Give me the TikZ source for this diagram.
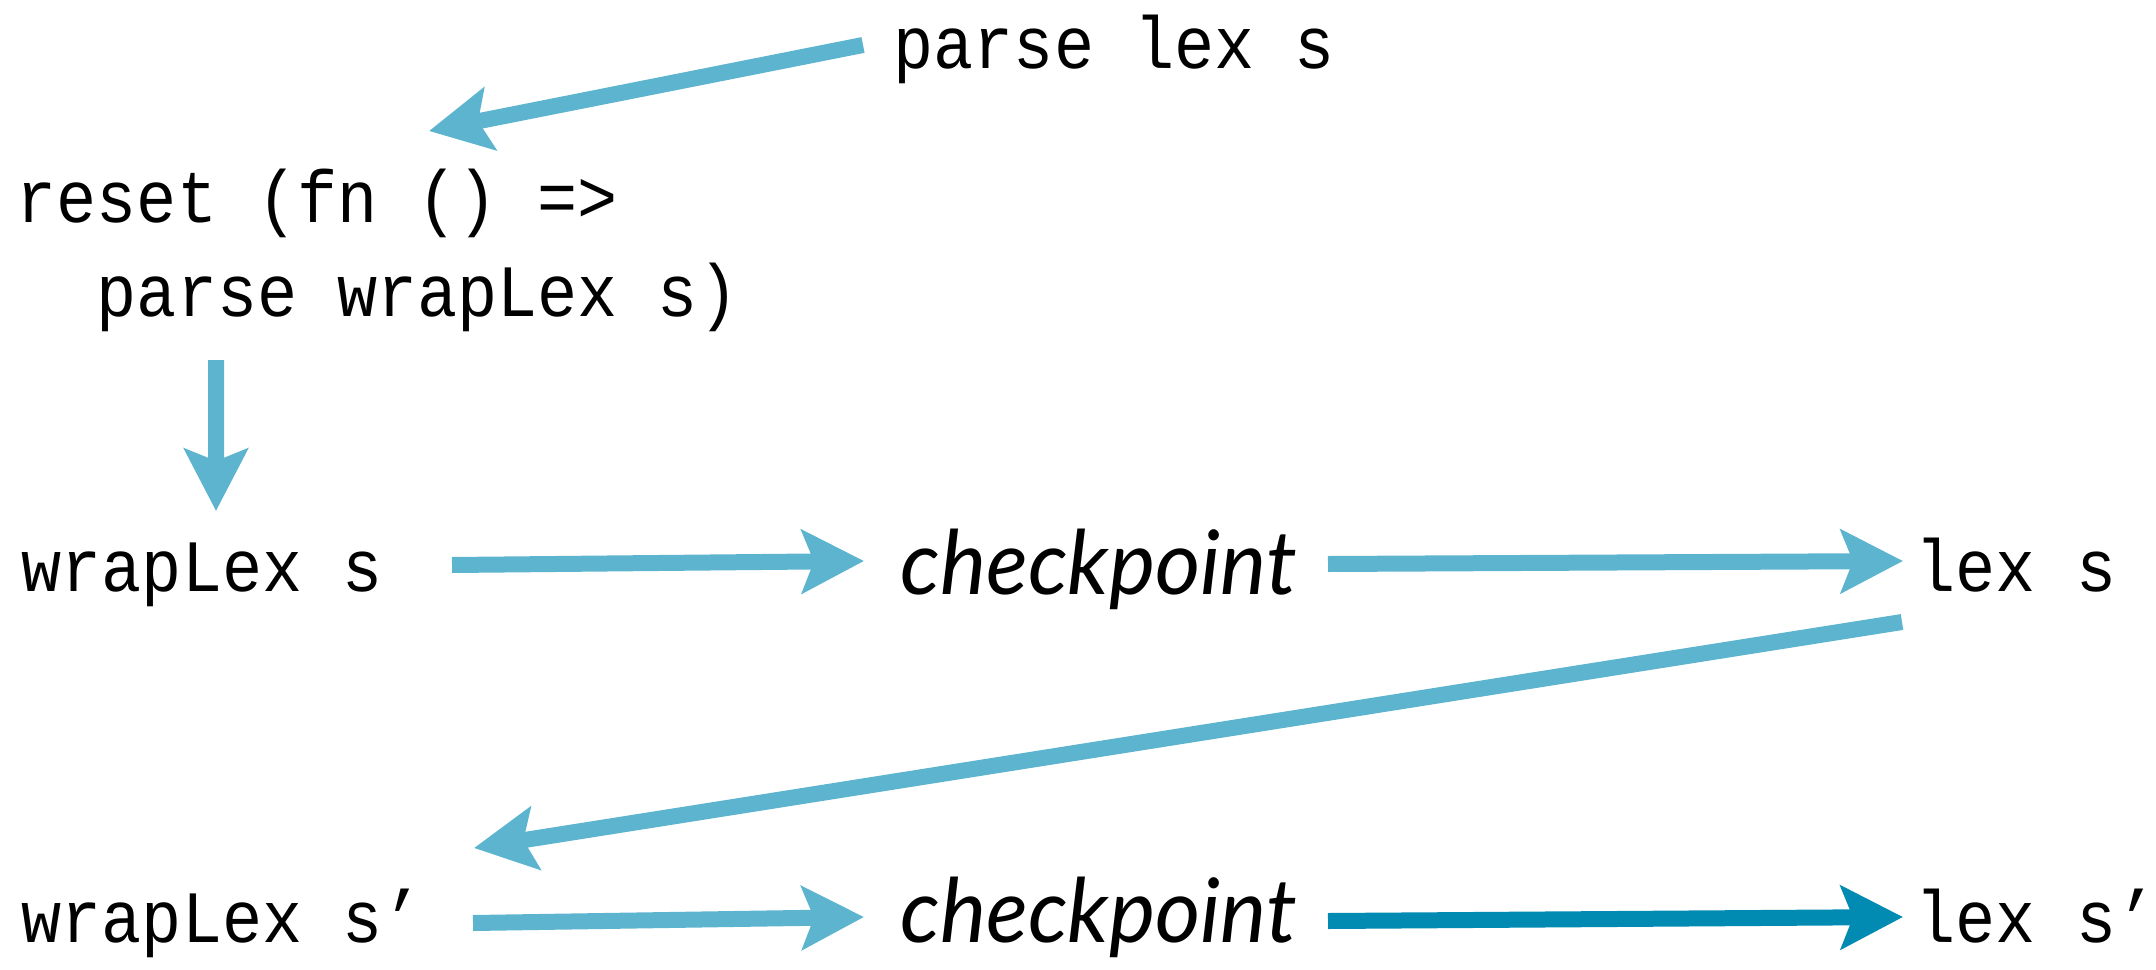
\documentclass[tikz,border=0pt]{standalone}
\usepackage{fontspec}
\setmonofont[FakeStretch=0.905]{Liberation Mono}
\newfontfamily\cpfont[FakeStretch=0.98]{Lato}
\usetikzlibrary{arrows.meta}
\definecolor{lblue}{HTML}{5DB4CF}
\definecolor{dblue}{HTML}{018BB3}

\begin{document}
\begin{tikzpicture}[>=Stealth,
 code/.style={font=\ttfamily\fontsize{21}{26.5}\selectfont,inner sep=0pt,anchor=base west,align=left},
 ckpt/.style={font=\cpfont\itshape\fontsize{25.3}{30}\selectfont,inner sep=0pt,anchor=base west},
 flow/.style={line width=1.6mm,draw=lblue,-{Stealth[length=6.2mm,width=6.3mm,inset=1.2mm]}}]
\useasboundingbox (0,0) rectangle (21.56,-9.70);
\node[code] (pl) at (8.93,-0.69) {parse lex s};
\node[code] (rs) at (0.16,-3.16) {reset (fn () =>\\~~parse wrapLex s)};
\node[code] (wl1) at (0.21,-5.91) {wrapLex s};
\node[ckpt] (cp1) at (9.00,-5.94) {checkpoint};
\node[code] (ls1) at (19.15,-5.91) {lex s};
\node[code] (wl2) at (0.21,-9.42) {wrapLex s’};
\node[ckpt] (cp2) at (9.00,-9.42) {checkpoint};
\node[code] (ls2) at (19.15,-9.42) {lex s’};
% top of the chain
\draw[flow] ([xshift=-3mm,yshift=2.4mm]pl.base west) -- ([xshift=41.3mm,yshift=18.5mm]rs.base west);
\draw[flow] ([xshift=20mm,yshift=-4.4mm]rs.base west) -- ([xshift=19.5mm,yshift=8mm]wl1.base west);
% first run
\draw[flow] ([xshift=43.1mm,yshift=2.6mm]wl1.base west) -- ([xshift=-3.6mm,yshift=3.3mm]cp1.base west);
\draw[flow] ([xshift=42.8mm,yshift=3mm]cp1.base west) -- ([xshift=-1.2mm,yshift=3mm]ls1.base west);
\draw[flow] ([xshift=-1.3mm,yshift=-3.1mm]ls1.base west) -- ([xshift=4.53cm,yshift=9.4mm]wl2.base west);
% second run
\draw[flow] ([xshift=45.2mm,yshift=1.9mm]wl2.base west) -- ([xshift=-3.6mm,yshift=2.5mm]cp2.base west);
\draw[flow,draw=dblue] ([xshift=42.8mm,yshift=2.1mm]cp2.base west) -- ([xshift=-1.2mm,yshift=2.5mm]ls2.base west);
\end{tikzpicture}
\end{document}
